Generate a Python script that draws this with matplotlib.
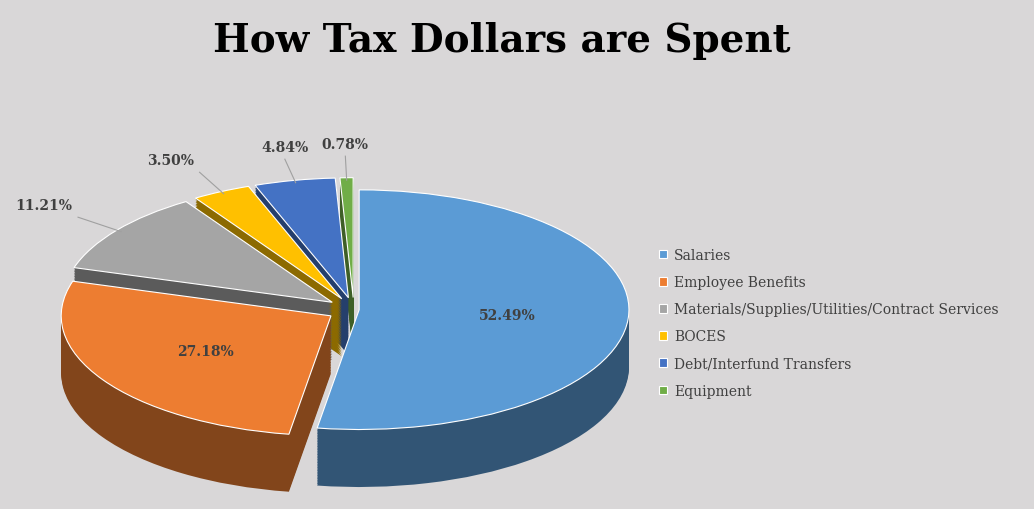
import matplotlib
matplotlib.use("Agg")
import matplotlib.pyplot as plt
import numpy as np
from matplotlib.colors import to_rgb

categories = ["Salaries", "Employee Benefits", "Materials/Supplies/Utilities/Contract Services",
              "BOCES", "Debt/Interfund Transfers", "Equipment"]
values = [52.49, 27.18, 11.21, 3.50, 4.84, 0.78]
colors = ["#5b9bd5", "#ed7d31", "#a5a5a5", "#ffc000", "#4472c4", "#70ad47"]
explode = [0.02, 0.1, 0.1, 0.1, 0.1, 0.1]

bg = "#d9d7d8"
fig = plt.figure(figsize=(10.34, 5.1), dpi=100, facecolor=bg)
ax = fig.add_axes([0.05, 0.02, 0.6, 0.78])
ax.set_facecolor(bg)

def dark(c, f):
    r, g, b = to_rgb(c)
    return (r * f, g * f, b * f)

depth = 0.48
for d in np.linspace(-depth, -0.01, 36):
    ax.pie(values, colors=[dark(c, 0.55) for c in colors], explode=explode,
           startangle=90, counterclock=False, center=(0, d), radius=1,
           wedgeprops=dict(linewidth=0))
wedges, _ = ax.pie(values, colors=colors, explode=explode, startangle=90,
                   counterclock=False, center=(0, 0), radius=1,
                   wedgeprops=dict(linewidth=0.8, edgecolor="white"))
ax.set_aspect("auto")
ax.set_xlim(-1.12, 1.18)
ax.set_ylim(-1.58, 1.74)
ax.axis("off")

tc = "#404040"
for i, (w, v) in enumerate(zip(wedges, values)):
    ang = np.deg2rad((w.theta1 + w.theta2) / 2)
    ex = explode[i]
    cx, cy = ex * np.cos(ang), ex * np.sin(ang)
    lab = f"{v:.2f}%"
    if v > 20:
        ax.text(cx + 0.55 * np.cos(ang), cy + 0.55 * np.sin(ang), lab,
                ha="center", va="center", fontsize=10, fontweight="bold",
                color=tc, family="DejaVu Serif")
    else:
        x0, y0 = cx + 0.98 * np.cos(ang), cy + 0.98 * np.sin(ang)
        x1, y1 = cx + 1.18 * np.cos(ang), cy + 1.18 * np.sin(ang)
        ax.plot([x0, x1], [y0, y1], color="#a0a0a0", lw=0.8)
        ha = "right" if np.cos(ang) < -0.2 else ("left" if np.cos(ang) > 0.1 else "center")
        ax.text(x1 + (0.02 if ha == "left" else -0.02 if ha == "right" else 0), y1 + 0.04, lab,
                ha=ha, va="bottom", fontsize=10, fontweight="bold", color=tc,
                family="DejaVu Serif")

fig.text(0.485, 0.92, "How Tax Dollars are Spent", ha="center", va="center",
         fontsize=28, fontweight="bold", family="DejaVu Serif", color="black")

leg = fig.legend(wedges, categories, loc="center left", bbox_to_anchor=(0.625, 0.365),
                 frameon=False, prop=dict(family="DejaVu Serif", size=10),
                 handlelength=0.6, handleheight=0.6, labelspacing=0.95, handletextpad=0.5)
for t in leg.get_texts():
    t.set_color(tc)

fig.savefig("out.png", dpi=100, facecolor=bg)
